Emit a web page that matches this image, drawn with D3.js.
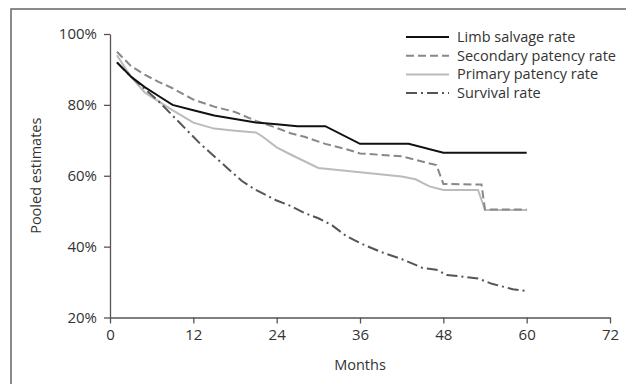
<!DOCTYPE html>
<html>
<head>
<meta charset="utf-8">
<script src="https://cdn.jsdelivr.net/npm/d3@7"></script>
<style>
  body { margin: 0; background: #fff; }
  text { font-family: "Open Sans", "Noto Sans", sans-serif; }
</style>
</head>
<body>
<div id="chart"></div>
<script>
// months ticks and percent ticks
let xTicks = [0, 12, 24, 36, 48, 60, 72];
let yTicks = [20, 40, 60, 80, 100];

// [month, pooled %]
let limbSalvage = [[1,92],[3,88],[5,85],[7,82.5],[9,80],[12,78.5],[15,77],[18,76],[21,75],[24,74.5],[27,74],[31,74],[36,69],[43,69],[48,66.5],[60,66.5]];
let secondaryPatency = [[1,95],[3,91],[5,88.5],[7,86.5],[9,84.7],[12,81.5],[15,79.5],[18,78],[21,75.5],[24,73.5],[26,72],[28,71],[31,69],[34,67.5],[36,66.3],[42,65.5],[44,64.5],[47,63],[48,57.7],[53.5,57.5],[54,50.5],[60,50.5]];
let primaryPatency = [[1,94],[3,88],[5,83.5],[7,81],[9,78.5],[12,75],[15,73.3],[18,72.7],[21,72.2],[22,71],[24,68],[26,66],[30,62.2],[36,61],[42,59.8],[44,59],[46,57],[48,56],[53,56],[54,50.3],[60,50.3]];
let survival = [[1,92],[3,88],[5,84.5],[7,81],[9,77],[11,73],[13,69],[15,65.5],[17,62],[19,58.5],[21,56],[24,53],[26,51.5],[28,49.5],[30,48],[32,46],[34,43],[36,41],[39,38.5],[42,36.5],[45,34],[47,33.5],[48.5,32],[51,31.5],[53,31],[55,29.5],[58,28],[60,27.5]];

let seriesNames = ["Limb salvage rate", "Secondary patency rate", "Primary patency rate", "Survival rate"];
let seriesData = [limbSalvage, secondaryPatency, primaryPatency, survival];
let seriesColor = ["#111", "#888", "#bbb", "#555"];
let seriesDash = [null, "8,4", null, "11,4,2,4"];

let width = 626, height = 384;

let x = d3.scaleLinear().domain([0, 72]).range([110, 610]);
let y = d3.scaleLinear().domain([20, 100]).range([317.5, 34]);

let svg = d3.select("#chart").append("svg")
    .attr("width", width)
    .attr("height", height);

// outer frame (only top and left edges show)
svg.append("rect")
    .attr("x", 11).attr("y", 9)
    .attr("width", 800).attr("height", 600)
    .attr("fill", "none")
    .attr("stroke", "#666")
    .attr("stroke-width", 1.5);

let xAxis = svg.append("g")
    .attr("transform", "translate(0," + y(20) + ")")
    .call(d3.axisBottom(x).tickValues(xTicks).tickSize(6).tickPadding(6).tickSizeOuter(0));

let yAxis = svg.append("g")
    .attr("transform", "translate(" + x(0) + ",0)")
    .call(d3.axisLeft(y).tickValues(yTicks).tickSize(6).tickPadding(7).tickSizeOuter(0)
      .tickFormat(d => d + "%"));

[xAxis, yAxis].forEach(a => {
  a.select(".domain").attr("stroke", "#555").attr("stroke-width", 1.3);
  a.selectAll(".tick line").attr("stroke", "#555").attr("stroke-width", 1.3);
  a.selectAll(".tick text").attr("fill", "#333").style("font-size", "15px")
    .style("font-family", "'Open Sans', sans-serif");
});

svg.append("text")
    .attr("x", (x(0) + x(72)) / 2)
    .attr("y", 370)
    .attr("text-anchor", "middle")
    .attr("fill", "#333")
    .style("font-size", "14.5px")
    .text("Months");

svg.append("text")
    .attr("transform", "translate(41," + (y(20) + y(100)) / 2 + ") rotate(-90)")
    .attr("text-anchor", "middle")
    .attr("fill", "#333")
    .style("font-size", "14.5px")
    .text("Pooled estimates");

let line = d3.line()
    .x(d => x(d[0]))
    .y(d => y(d[1]));

// draw lighter lines first so the darker ones sit on top
[2, 1, 3, 0].forEach(i => {
  svg.append("path")
      .datum(seriesData[i])
      .attr("fill", "none")
      .attr("stroke", seriesColor[i])
      .attr("stroke-width", 2)
      .attr("stroke-dasharray", seriesDash[i])
      .attr("d", line);
});

let legend = svg.append("g").attr("transform", "translate(406,37)");
seriesNames.forEach((name, i) => {
  let row = legend.append("g").attr("transform", "translate(0," + i * 18.7 + ")");
  row.append("line")
      .attr("x1", 0).attr("x2", 43)
      .attr("stroke", seriesColor[i])
      .attr("stroke-width", 2)
      .attr("stroke-dasharray", seriesDash[i]);
  row.append("text")
      .attr("x", 51)
      .attr("dy", "0.35em")
      .attr("fill", "#333")
      .style("font-size", "14.5px")
      .text(name);
});
</script>
</body>
</html>
